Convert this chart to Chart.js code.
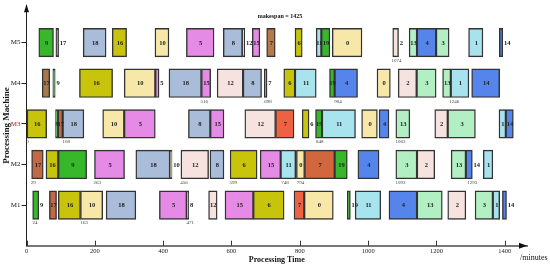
<!DOCTYPE html>
<html><head><meta charset="utf-8">
<script src="https://cdn.jsdelivr.net/npm/chart.js@4"></script>
<style>html,body{margin:0;padding:0;background:#fff}#wrap{width:550px;height:268px;position:relative}</style>
</head><body>
<div id="wrap"><canvas id="c"></canvas></div>
<script>
// ---- data: [job, start, end] per machine ----
const machines = ['M1', 'M2', 'M3', 'M4', 'M5'];
const jobsM5 = [[9,36,79],[17,86,94],[18,166,233],[16,251,293],[10,376,417],[5,468,549],[8,576,632],[12,632,639],[15,661,683],[7,703,728],[6,786,807],[11,848,863],[19,863,888],[0,895,982],[2,1072,1089],[13,1120,1143],[4,1143,1199],[3,1199,1237],[1,1294,1336],[14,1384,1394]];
const jobsM4 = [[17,46,68],[9,77,84],[16,155,252],[10,286,377],[5,377,388],[18,417,512],[15,512,539],[12,558,634],[8,634,688],[7,696,704],[6,753,786],[11,786,848],[19,887,902],[4,902,969],[0,1026,1065],[2,1088,1142],[3,1142,1199],[13,1218,1242],[1,1242,1295],[14,1303,1385]];
const jobsM3 = [[16,0,59],[9,85,92],[17,92,106],[18,106,168],[10,223,286],[5,286,377],[8,474,538],[15,538,578],[12,639,729],[7,729,783],[6,807,827],[19,846,865],[11,865,963],[0,981,1027],[4,1032,1061],[13,1081,1122],[2,1195,1233],[3,1233,1314],[1,1383,1403],[14,1403,1425]];
const jobsM2 = [[17,15,49],[16,57,93],[9,93,176],[5,199,287],[18,320,420],[10,420,426],[12,452,533],[8,537,578],[6,596,675],[15,684,744],[11,744,788],[0,790,814],[7,814,902],[19,902,939],[4,970,1032],[3,1081,1143],[2,1143,1195],[13,1243,1286],[14,1286,1305],[1,1337,1365]];
const jobsM1 = [[9,18,36],[17,67,88],[16,93,158],[10,158,223],[18,233,320],[5,389,469],[8,469,475],[12,533,558],[15,581,664],[6,664,754],[7,783,813],[0,813,898],[19,939,948],[11,962,1037],[4,1061,1143],[13,1143,1217],[2,1233,1286],[3,1313,1365],[1,1365,1385],[14,1393,1405]];
// small time annotations below bars: [time position, text]
const notesM5 = [[1083,'1074']];
const notesM4 = [[520,'516'],[707,'698'],[912,'904'],[1252,'1246']];
const notesM3 = [[3,'0'],[116,'108'],[858,'848'],[1095,'1063']];
const notesM2 = [[20,'29'],[207,'263'],[461,'456'],[605,'599'],[757,'748'],[802,'794'],[1095,'1092'],[1305,'1293']];
const notesM1 = [[25,'24'],[169,'163'],[479,'471']];
const xTicks = [0,200,400,600,800,1000,1200,1400];
const makespan = 1425;

// ---- styles ----
const jobColor = {0:'#f7e7a8',10:'#f7e7a8',1:'#a8e2ee',11:'#a8e4ee',2:'#f6e2de',12:'#f6e2de',3:'#b2efc2',13:'#b2efc2',
  4:'#5585ea',14:'#5585ea',5:'#e58be6',15:'#e58be6',6:'#c8c40c',16:'#c8c40c',7:'#ee6243',17:'#c26a47',
  8:'#a9bcd9',18:'#a9bcd9',9:'#37b82b',19:'#37b82b'};
const colorOverride = {'M5-7':'#b5794a','M4-7':'#b5794a','M4-17':'#a8784a','M5-17':'#a57a50','M2-7':'#d2663f'};
const rows = [jobsM1, jobsM2, jobsM3, jobsM4, jobsM5];
const notes = [notesM1, notesM2, notesM3, notesM4, notesM5];
const SERIF = '"Liberation Serif","Times New Roman",serif';

const datasets = rows.map((jobs, r) => ({
  label: machines[r],
  jobs: jobs,
  data: jobs.map(j => ({ x: [j[1], j[2]], y: r + 1 })),
  backgroundColor: jobs.map(j => colorOverride[machines[r] + '-' + j[0]] || jobColor[j[0]]),
  borderColor: '#333',
  borderWidth: 1.4,
  borderSkipped: false,
  barThickness: 28.5,
  grouped: false
}));

const overlay = {
  id: 'overlay',
  afterDatasetsDraw(chart) {
    const ctx = chart.ctx, xs = chart.scales.x, ys = chart.scales.y, ca = chart.chartArea;
    ctx.save();
    // job labels
    ctx.font = 'bold 6.5px ' + SERIF;
    ctx.textBaseline = 'middle';
    ctx.fillStyle = '#222';
    chart.data.datasets.forEach((ds, di) => {
      const meta = chart.getDatasetMeta(di);
      meta.data.forEach((el, i) => {
        const l = Math.min(el.x, el.base), rr = Math.max(el.x, el.base), w = rr - l;
        const nx = ds.jobs[i + 1];
        const gap = nx ? nx[1] - ds.jobs[i][2] : Infinity;
        if (w < 7 && gap >= 12) { ctx.textAlign = 'left'; ctx.fillText(String(ds.jobs[i][0]), rr + 1.2, el.y + 0.5); }
        else { ctx.textAlign = 'center'; ctx.fillText(String(ds.jobs[i][0]), (l + rr) / 2 + 0.5, el.y + 0.5); }
      });
    });
    // time notes
    ctx.font = '5px ' + SERIF;
    ctx.fillStyle = '#444';
    ctx.textAlign = 'center';
    notes.forEach((arr, r) => {
      const yc = ys.getPixelForValue(r + 1) + 14.25 + 3.8;
      arr.forEach(n => ctx.fillText(n[1], xs.getPixelForValue(n[0]), yc));
    });
    // x tick marks (inward)
    ctx.strokeStyle = '#333'; ctx.lineWidth = 1;
    xTicks.forEach(t => {
      const px = Math.round(xs.getPixelForValue(t)) + 0.5;
      ctx.beginPath(); ctx.moveTo(px, ca.bottom - 5); ctx.lineTo(px, ca.bottom); ctx.stroke();
    });
    // arrows
    ctx.fillStyle = '#111';
    ctx.beginPath(); ctx.moveTo(ca.right, ca.bottom); ctx.lineTo(ca.right - 8, ca.bottom - 3); ctx.lineTo(ca.right - 8, ca.bottom + 3); ctx.closePath(); ctx.fill();
    ctx.beginPath(); ctx.moveTo(ca.left, ca.top - 1); ctx.lineTo(ca.left - 2.5, ca.top + 7); ctx.lineTo(ca.left + 2.5, ca.top + 7); ctx.closePath(); ctx.fill();
    // title text
    ctx.font = 'bold 6px ' + SERIF;
    ctx.fillStyle = '#111';
    ctx.textAlign = 'center';
    ctx.fillText('makespan = ' + makespan, 280, 16.5);
    ctx.font = '8px ' + SERIF;
    ctx.textAlign = 'left';
    ctx.fillText('/minutes', 520, 257.5);
    ctx.restore();
  }
};

new Chart(document.getElementById('c'), {
  type: 'bar',
  data: { datasets: datasets },
  options: {
    indexAxis: 'y',
    responsive: true,
    maintainAspectRatio: false,
    animation: false,
    layout: { padding: { top: 0, right: 23, left: 0, bottom: 0 } },
    plugins: { legend: { display: false }, tooltip: { enabled: false } },
    scales: {
      x: {
        type: 'linear', position: 'bottom', min: 0, max: 1465, offset: false,
        afterBuildTicks: s => { s.ticks = xTicks.map(v => ({ value: v })); },
        afterFit: s => { s.height = 22.3; },
        grid: { display: true, drawOnChartArea: false, drawTicks: false },
        border: { display: true, color: '#777', width: 2 },
        ticks: { font: { family: SERIF, size: 6.5 }, color: '#222', padding: 2, maxRotation: 0, callback: v => String(v) },
        title: { display: true, text: 'Processing Time', font: { family: SERIF, size: 8, weight: 'bold' }, color: '#111', padding: { top: 0, bottom: 3 } }
      },
      y: {
        type: 'linear', position: 'left', min: 0, max: 5.92, offset: false,
        afterBuildTicks: s => { s.ticks = [1, 2, 3, 4, 5].map(v => ({ value: v })); },
        afterFit: s => { s.width = 26.5; },
        grid: { display: true, drawOnChartArea: false, drawTicks: true, tickLength: 5, color: '#222', offset: false },
        border: { display: true, color: '#222', width: 1 },
        ticks: {
          font: { family: SERIF, size: 7 }, padding: 1,
          color: c => (c.tick && c.tick.value === 3) ? '#e00000' : '#111',
          callback: v => machines[v - 1]
        },
        title: { display: true, text: 'Processing Machine', font: { family: SERIF, size: 9, weight: 'bold' }, color: '#111', padding: { top: 1.5, bottom: 0 } }
      }
    }
  },
  plugins: [overlay]
});
</script>
</body></html>
